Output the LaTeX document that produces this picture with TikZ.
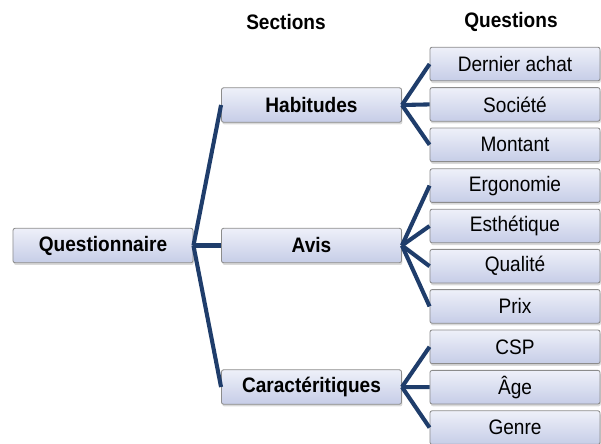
\documentclass[tikz,border=0pt]{standalone}
\usepackage{fontspec}
\setmainfont[FakeStretch=0.91]{Liberation Sans}
\usepackage{xcolor}
\usepackage{tikz}
\usetikzlibrary{shapes,arrows,positioning,shadows}
\definecolor{branchblue}{HTML}{1F3D6B}
\definecolor{boxtop}{HTML}{EEF0F9}
\definecolor{boxbottom}{HTML}{C6CDE7}
\definecolor{boxborder}{HTML}{8C8C8C}
\tikzstyle{branch} = [draw=branchblue, line width=2.9pt]
\tikzset{
    every node/.style={font=\fontsize{14.9}{17}\selectfont},
    box/.style={draw=boxborder, line width=0.6pt, rounded corners=1.5pt,
        top color=boxtop, bottom color=boxbottom, inner sep=0pt,
        minimum height=0.86cm,
        drop shadow={shadow xshift=0.6pt, shadow yshift=-1.6pt, opacity=0.3}},
    rootbox/.style={box, minimum width=4.5cm, font=\fontsize{14.9}{17}\selectfont\bfseries},
    sectionbox/.style={box, minimum width=4.5cm, font=\fontsize{14.9}{17}\selectfont\bfseries},
    questionbox/.style={box, minimum width=4.25cm, minimum height=0.84cm}
}

\begin{document}
\begin{tikzpicture}[x=0.025cm,y=-0.025cm]
            \useasboundingbox (0,0) rectangle (601,443);

            % Headers
            \node[font=\fontsize{14.9}{17}\selectfont\bfseries] (hsec) at (286,22) {Sections};
            \node[font=\fontsize{14.9}{17}\selectfont\bfseries] (hque) at (511,22) {Questions};

            % Root
            \node[rootbox] (quest) at (103,245.5) {Questionnaire};

            % Sections
            \node[sectionbox] (habit) at (311.5,105) {Habitudes};
            \node[sectionbox] (avis) at (311.5,245.5) {Avis};
            \node[sectionbox] (caract) at (311.5,387) {Caractéritiques};

            % Questions
            \node[questionbox] (achat) at (515,64) {Dernier achat};
            \node[questionbox] (societe) at (515,104.4) {Société};
            \node[questionbox] (montant) at (515,144.8) {Montant};
            \node[questionbox] (ergo) at (515,185.6) {Ergonomie};
            \node[questionbox] (esthe) at (515,226) {Esthétique};
            \node[questionbox] (qualite) at (515,266.2) {Qualité};
            \node[questionbox] (prix) at (515,306.4) {Prix};
            \node[questionbox] (csp) at (515,346.8) {CSP};
            \node[questionbox] (age) at (515,387.2) {Âge};
            \node[questionbox] (genre) at (515,427.6) {Genre};

            % Branches root -> sections
            \draw[branch] (quest.east) -- (habit.west);
            \draw[branch] (quest.east) -- (avis.west);
            \draw[branch] (quest.east) -- (caract.west);

            % Branches sections -> questions
            \draw[branch] (habit.east) -- (achat.west);
            \draw[branch] (habit.east) -- (societe.west);
            \draw[branch] (habit.east) -- (montant.west);
            \draw[branch] (avis.east) -- (ergo.west);
            \draw[branch] (avis.east) -- (esthe.west);
            \draw[branch] (avis.east) -- (qualite.west);
            \draw[branch] (avis.east) -- (prix.west);
            \draw[branch] (caract.east) -- (csp.west);
            \draw[branch] (caract.east) -- (age.west);
            \draw[branch] (caract.east) -- (genre.west);
        \end{tikzpicture}
\end{document}
